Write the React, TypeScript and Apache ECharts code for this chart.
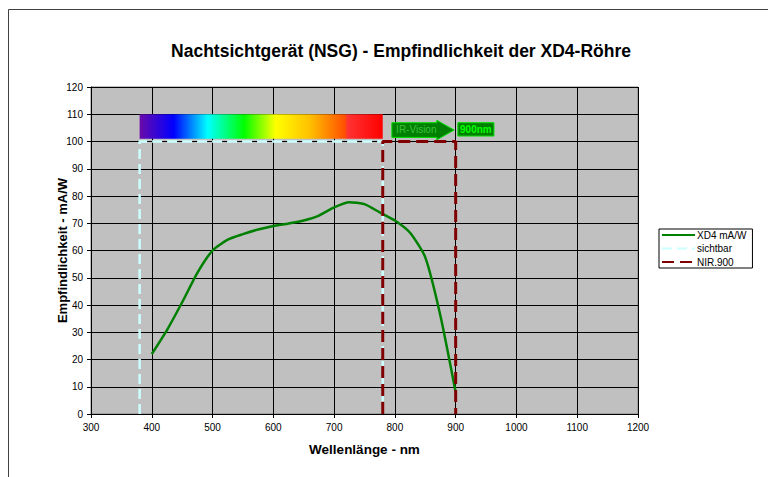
import React, { useEffect, useRef } from "react";
import * as echarts from "echarts";

// ---- data ----
const wavelengths = [400, 425, 450, 475, 500, 525, 550, 575, 600, 625, 650, 675, 700, 725, 750, 775, 800, 825, 850, 875, 900];
const sensitivity = [22, 30.8, 41, 51.8, 60, 64, 66, 67.7, 69, 69.9, 71, 72.8, 75.8, 77.7, 77, 74, 71, 66.5, 57.5, 36, 8];
const sichtbarX = [380, 380, 780, 780];
const sichtbarY = [0, 100, 100, 0];
const nirX = [780, 780, 900, 900];
const nirY = [0, 100, 100, 0];
const seriesNames = ["XD4 mA/W", "sichtbar", "NIR.900"];
const titleText = "Nachtsichtgerät (NSG) - Empfindlichkeit der XD4-Röhre";
const xName = "Wellenlänge - nm";
const yName = "Empfindlichkeit - mA/W";

const FONT = "'Liberation Sans', Arial, Helvetica, sans-serif";

export default function App() {
  const ref = useRef<HTMLDivElement>(null);
  useEffect(() => {
    if (!ref.current) return;
    const chart = echarts.init(ref.current, null, { renderer: "svg" });

    const annotation = (params: any, api: any) => {
      const p = (x: number, y: number) => api.coord([x, y]);
      const s0 = p(380, 110);
      const s1 = p(780, 101);
      const arrowPts = [
        p(795, 106.9), p(869, 106.9), p(869, 107.8), p(897.5, 104.2),
        p(869, 100.6), p(869, 101.5), p(795, 101.5),
      ];
      const textPos = p(802, 104.4);
      const b0 = p(903.6, 106.9);
      const b1 = p(963, 102);
      return {
        type: "group",
        children: [
          {
            type: "rect",
            shape: { x: s0[0], y: s0[1], width: s1[0] - s0[0], height: s1[1] - s0[1] },
            style: {
              fill: new echarts.graphic.LinearGradient(0, 0, 1, 0, [
                { offset: 0, color: "#6A0AAA" },
                { offset: 0.14, color: "#0000FF" },
                { offset: 0.28, color: "#00FFFF" },
                { offset: 0.43, color: "#00FF00" },
                { offset: 0.56, color: "#FFFF00" },
                { offset: 0.7, color: "#FFC000" },
                { offset: 0.845, color: "#FF5000" },
                { offset: 0.855, color: "#FF3333" },
                { offset: 1, color: "#FF0000" },
              ]),
            },
          },
          {
            type: "polygon",
            shape: { points: arrowPts },
            style: { fill: "#008000", stroke: "#00E000", lineWidth: 1 },
          },
          {
            type: "text",
            x: textPos[0],
            y: textPos[1],
            style: {
              text: "IR-Vision",
              fill: "#3CC03C",
              font: "10px " + FONT,
              verticalAlign: "middle",
              align: "left",
            },
          },
          {
            type: "rect",
            shape: { x: b0[0], y: b0[1], width: b1[0] - b0[0], height: b1[1] - b0[1] },
            style: { fill: "#008000", stroke: "#00E000", lineWidth: 1 },
          },
          {
            type: "text",
            x: (b0[0] + b1[0]) / 2,
            y: (b0[1] + b1[1]) / 2,
            style: {
              text: "900nm",
              fill: "#00FF00",
              font: "bold 10px " + FONT,
              verticalAlign: "middle",
              align: "center",
            },
          },
        ],
      };
    };

    chart.setOption({
      animation: false,
      backgroundColor: "#FFFFFF",
      textStyle: { fontFamily: FONT },
      title: {
        text: titleText,
        left: 396,
        textAlign: "center",
        top: 37,
        textStyle: { fontSize: 17.5, fontWeight: "bold", color: "#000", fontFamily: FONT },
      },
      graphic: [
        {
          type: "rect",
          shape: { x: 8.5, y: 9.5, width: 900, height: 900 },
          style: { fill: "none", stroke: "#404040", lineWidth: 1 },
          silent: true,
        },
      ],
      legend: {
        data: seriesNames,
        orient: "vertical",
        left: 659,
        top: 229,
        borderColor: "#000",
        borderWidth: 1,
        padding: [1, 6, 1, 2],
        itemWidth: 33,
        itemHeight: 12,
        itemGap: 3.5,
        itemStyle: { opacity: 0 },
        textStyle: { fontSize: 10, color: "#000", fontFamily: FONT, padding: [0, 0, 0, -3] },
      },
      grid: {
        left: 91,
        top: 87,
        right: 130,
        bottom: 63,
        show: true,
        backgroundColor: "#C0C0C0",
        borderColor: "#808080",
        borderWidth: 1,
      },
      xAxis: {
        type: "value",
        min: 300,
        max: 1200,
        interval: 100,
        name: xName,
        nameLocation: "middle",
        nameGap: 28,
        nameTextStyle: { fontSize: 13.5, fontWeight: "bold", color: "#000", fontFamily: FONT },
        axisLine: { show: true, lineStyle: { color: "#000", width: 1 } },
        axisTick: { show: true, length: 4, lineStyle: { color: "#000" } },
        axisLabel: { fontSize: 10, color: "#000", margin: 8, fontFamily: FONT, formatter: (v: number) => String(v) },
        splitLine: { show: true, lineStyle: { color: "#000", width: 1 } },
      },
      yAxis: {
        type: "value",
        min: 0,
        max: 120,
        interval: 10,
        name: yName,
        nameLocation: "middle",
        nameGap: 22,
        nameMoveOverlap: false,
        nameTextStyle: { fontSize: 13, fontWeight: "bold", color: "#000", fontFamily: FONT },
        axisLine: { show: true, lineStyle: { color: "#000", width: 1 } },
        axisTick: { show: true, length: 4, lineStyle: { color: "#000" } },
        axisLabel: { fontSize: 10, color: "#000", margin: 8, fontFamily: FONT },
        splitLine: { show: true, lineStyle: { color: "#000", width: 1 } },
      },
      series: [
        {
          name: seriesNames[0],
          type: "line",
          data: wavelengths.map((w, i) => [w, sensitivity[i]]),
          symbol: "none",
          smooth: 0.2,
          color: "#008000",
          lineStyle: { color: "#008000", width: 2.5 },
          z: 3,
        },
        {
          name: seriesNames[1],
          type: "line",
          data: sichtbarX.map((x, i) => [x, sichtbarY[i]]),
          symbol: "none",
          color: "#CCFFFF",
          lineStyle: { color: "#CCFFFF", width: 2.5, type: [10, 5] },
          z: 4,
        },
        {
          name: seriesNames[2],
          type: "line",
          data: nirX.map((x, i) => [x, nirY[i]]),
          symbol: "none",
          color: "#800000",
          lineStyle: { color: "#800000", width: 3, type: [12, 6] },
          z: 5,
        },
        {
          name: "annotations",
          type: "custom",
          renderItem: annotation,
          data: [[0, 0]],
          silent: true,
          clip: false,
          z: 6,
        },
      ],
    });
    return () => chart.dispose();
  }, []);
  return (
    <div
      ref={ref}
      style={{ position: "fixed", left: 0, top: 0, width: 768, height: 477 }}
    />
  );
}
